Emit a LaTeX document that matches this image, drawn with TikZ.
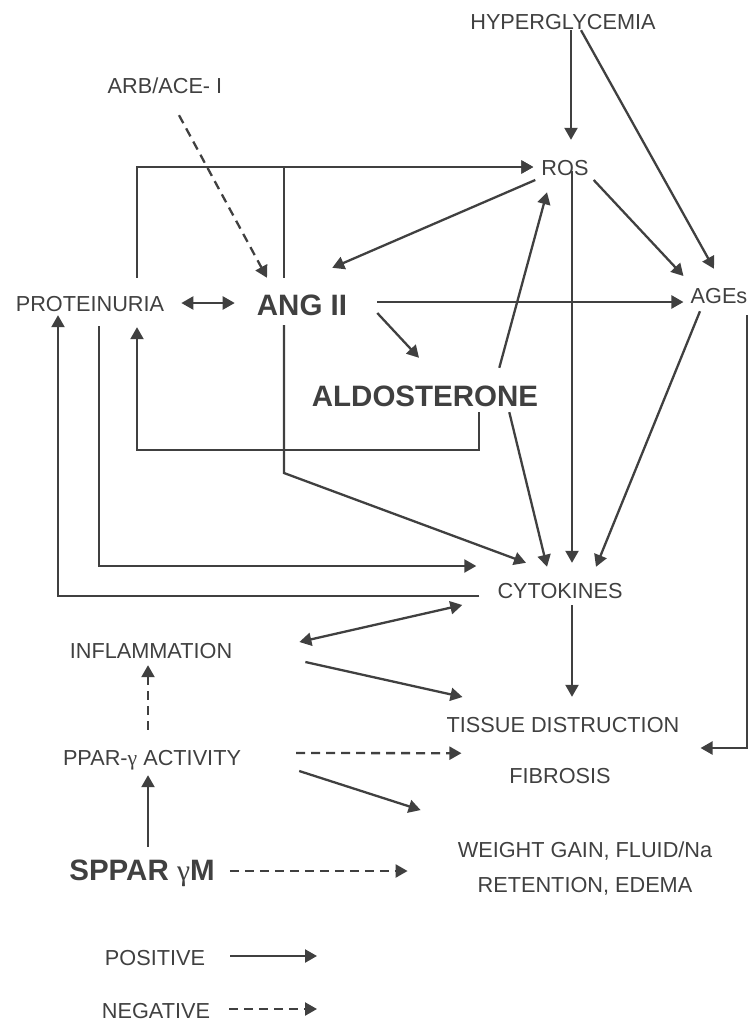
\documentclass[tikz,border=0pt]{standalone}
\usepackage{fontspec}
\setmainfont{Liberation Sans}
\newfontfamily\grk{Liberation Serif}
\usetikzlibrary{arrows.meta}
\definecolor{ink}{RGB}{64,64,64}
\tikzset{
  >={Triangle[length=12pt,width=13pt]},
  base/.style={inner sep=0pt,text=ink,font=\fontsize{21.7}{35}\selectfont},
  lbl/.style={base,text height=16pt,text depth=0pt},
  hub/.style={lbl,text height=21pt,font=\fontsize{29.5}{35}\selectfont\bfseries},
  posarrow/.style={draw=ink,line width=2.3pt,->},
  negarrow/.style={posarrow,dash pattern=on 9pt off 6pt},
}

\begin{document}
\begin{tikzpicture}[x=1pt,y=-1pt]
  \useasboundingbox (0,0) rectangle (748,1021);

  % top
  \node[lbl] (hyper) at (563,21) {HYPERGLYCEMIA};
  \node[lbl] (arb) at (165,85) {ARB/ACE- I};
  \node[lbl] (ros) at (565,167) {ROS};
  \node[lbl] (prot) at (90,303) {PROTEINURIA};
  \node[hub] (ang) at (302,305) {ANG II};
  \node[lbl] (ages) at (719,295) {AGEs};
  \node[hub] (aldo) at (425,396) {ALDOSTERONE};
  \node[lbl] (cyto) at (560,590) {CYTOKINES};

  % bottom
  \node[lbl] (infl) at (151,650) {INFLAMMATION};
  \node[lbl] (tissue) at (563,724) {TISSUE DISTRUCTION};
  \node[lbl] (ppar) at (152,757) {PPAR-{\grk γ} ACTIVITY};
  \node[lbl] (fib) at (560,775) {FIBROSIS};
  \node[hub] (sppar) at (142,870) {SPPAR {\grk\mdseries γ}M};
  \node[base,align=center] (weight) at (585,869) {WEIGHT GAIN, FLUID/Na\\RETENTION, EDEMA};

  % legend
  \node[lbl] (posl) at (155,957) {POSITIVE};
  \node[lbl] (negl) at (156,1010) {NEGATIVE};
  \coordinate (posend) at (317,956);
  \coordinate (negend) at (317,1009);

  % bends
  \coordinate (angbend) at (284,473);
  \coordinate (aldobend) at (137,450);
  \coordinate (agesbend) at (747,748);

  \draw[posarrow] ([xshift=8pt,yshift=-1pt]hyper.south) -- ([xshift=6pt,yshift=19pt]ros.north);
  \draw[posarrow] ([xshift=18pt,yshift=-1pt]hyper.south) -- ([xshift=-5pt,yshift=18pt]ages.north);
  \draw[negarrow] ([xshift=14pt,yshift=-22pt]arb.south) -- ([xshift=-35pt,yshift=16.5pt]ang.north);
  \draw[posarrow] ([xshift=47pt,yshift=17pt]prot.north) |- ([xshift=-8pt]ros.west);
  \draw[posarrow] ([xshift=-18pt,yshift=16.5pt]ang.north) |- ([xshift=-8pt]ros.west);
  \draw[posarrow] ([xshift=-6pt,yshift=-13pt]ros.west) -- ([xshift=-15pt,yshift=26.5pt]ang.north east);
  \draw[posarrow] ([xshift=-39pt,yshift=17.5pt]aldo.north east) -- ([xshift=-18pt,yshift=-17pt]ros.south);
  \draw[posarrow] ([xshift=7pt,yshift=4pt]ros.south) -- ([xshift=12pt,yshift=19pt]cyto.north);
  \draw[posarrow] ([xshift=5pt,yshift=-13pt]ros.east) -- ([xshift=-7pt,yshift=19pt]ages.west);

  \draw[posarrow,<->] ([xshift=17pt]prot.east) -- ([xshift=-22pt,yshift=2pt]ang.west);
  \draw[posarrow] ([xshift=30pt,yshift=3pt]ang.east) -- ([xshift=-7pt,yshift=-7pt]ages.west);
  \draw[posarrow] ([xshift=30pt,yshift=-8pt]ang.east) -- ([xshift=-6pt,yshift=27.5pt]aldo.north);
  \draw[posarrow] ([xshift=-18pt,yshift=-9.5pt]ang.south) -- (angbend) -- ([xshift=-34pt,yshift=19pt]cyto.north);
  \draw[posarrow] ([xshift=54pt,yshift=-5.5pt]aldo.south) |- (aldobend) -- ([xshift=47pt,yshift=-16pt]prot.south);
  \draw[posarrow] ([xshift=-29pt,yshift=-5.5pt]aldo.south east) -- ([xshift=-13pt,yshift=15pt]cyto.north);
  \draw[posarrow] ([xshift=-19pt,yshift=-8pt]ages.south) -- ([xshift=36pt,yshift=15pt]cyto.north);
  \draw[posarrow] ([xshift=28pt,yshift=-12pt]ages.south) -- (agesbend) -- ([xshift=21pt,yshift=-24pt]tissue.east);

  \draw[posarrow] ([xshift=9pt,yshift=-15pt]prot.south) |- ([xshift=-21pt,yshift=24pt]cyto.west);
  \draw[posarrow] ([xshift=-18pt,yshift=-6pt]cyto.west) -| ([xshift=-32pt,yshift=-4pt]prot.south);
  \draw[posarrow,<->] ([xshift=67pt,yshift=8pt]infl.east) -- ([xshift=-35pt,yshift=-15pt]cyto.west);
  \draw[posarrow] ([xshift=73pt,yshift=-12pt]infl.east) -- ([xshift=16pt,yshift=27pt]tissue.west);
  \draw[posarrow] ([xshift=12pt,yshift=-7pt]cyto.south) -- ([xshift=9pt,yshift=19pt]tissue.north);

  \draw[negarrow] ([xshift=-4pt,yshift=19pt]ppar.north) -- ([xshift=-3pt,yshift=-7pt]infl.south);
  \draw[negarrow] ([xshift=55pt,yshift=4pt]ppar.east) -- ([xshift=15pt,yshift=-21pt]tissue.south west);
  \draw[posarrow] ([xshift=58pt,yshift=-14pt]ppar.east) -- ([xshift=-37pt,yshift=32pt]weight.north west);
  \draw[negarrow] ([xshift=15pt,yshift=-1pt]sppar.east) -- ([xshift=-50pt,yshift=-2pt]weight.west);
  \draw[posarrow] ([xshift=6pt,yshift=12.5pt]sppar.north) -- ([xshift=-4pt,yshift=-10pt]ppar.south);

  \draw[posarrow] ([xshift=25pt,yshift=1pt]posl.east) -- (posend);
  \draw[negarrow] ([xshift=19pt,yshift=1pt]negl.east) -- (negend);
\end{tikzpicture}
\end{document}
